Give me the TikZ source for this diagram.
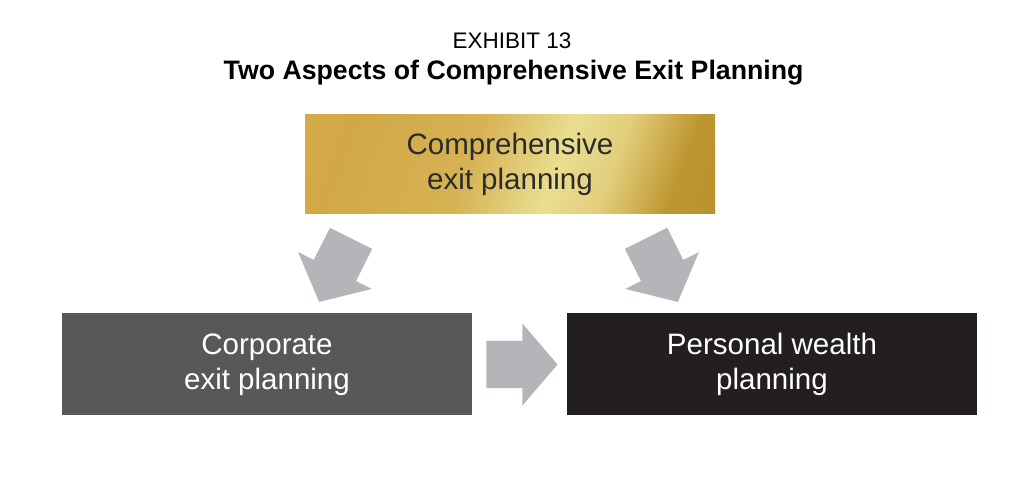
\documentclass[tikz,border=0pt]{standalone}
\usepackage{fontspec}
\setmainfont{Liberation Sans}
\usetikzlibrary{positioning,calc}

\definecolor{textdark}{HTML}{2B2B2B}
\definecolor{arrowgray}{HTML}{B4B5B8}
\definecolor{corpgray}{HTML}{58585A}
\definecolor{persblack}{HTML}{231F20}
\pgfdeclarehorizontalshading{goldsheen}{100bp}{%
  color(0bp)=({rgb,255:red,220;green,180;blue,84});
  color(25bp)=({rgb,255:red,210;green,168;blue,70});
  color(44bp)=({rgb,255:red,214;green,178;blue,84});
  color(57bp)=({rgb,255:red,233;green,222;blue,144});
  color(65bp)=({rgb,255:red,226;green,206;blue,124});
  color(75bp)=({rgb,255:red,190;green,150;blue,48});
  color(100bp)=({rgb,255:red,176;green,138;blue,40})}

\tikzset{
  box/.style={minimum width=10.25cm, minimum height=2.55cm, align=center,
    font=\fontsize{21}{25}\selectfont, inner sep=0pt},
  pics/blockarrow/.style={code={
    \fill[arrowgray] (0,-0.59) -- (0.9,-0.59) -- (0.9,-1.03) -- (1.78,0)
      -- (0.9,1.03) -- (0.9,0.59) -- (0,0.59) -- cycle;}}
}

\begin{document}
\begin{tikzpicture}
    \useasboundingbox (0,0) rectangle (25.6,11.95);

    % Title
    \node (exhibit) at (12.8,10.925) {\fontsize{16}{18}\selectfont EXHIBIT 13};
    \node (title) at (12.84,10.125) {\fontsize{19}{22}\selectfont\bfseries Two Aspects of Comprehensive Exit Planning};

    % Boxes
    \node[box, shading=goldsheen, shading angle=-20, minimum height=2.475cm, text=textdark]
        (comp) at (12.75,7.8375) {Comprehensive\\exit planning};
    \node[box, fill=corpgray, text=white] (corp) at (6.675,2.8375) {Corporate\\exit planning};
    \node[box, fill=persblack, text=white] (pers) at (19.3,2.8375) {Personal wealth\\planning};

    % Arrows
    \pic[rotate=-116.6] at ($(comp.south)+(-3.975,-0.6)$) {blockarrow};
    \pic[rotate=-63.4] at ($(comp.south)+(3.4,-0.6)$) {blockarrow};
    \pic at ($(corp.east)+(0.35,0)$) {blockarrow};
\end{tikzpicture}
\end{document}
